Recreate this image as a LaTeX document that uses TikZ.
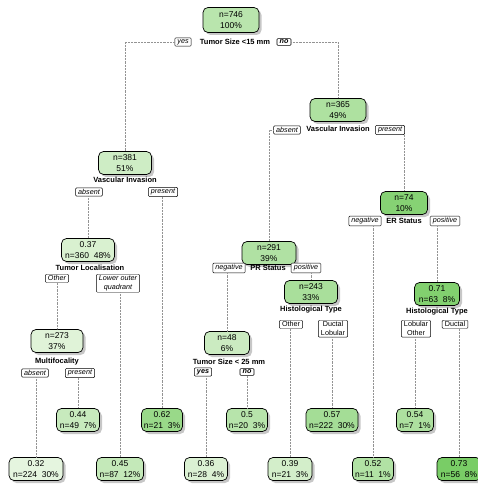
\documentclass[tikz,border=0pt]{standalone}
\usepackage{fontspec}
\setmainfont{Liberation Sans}
\usetikzlibrary{shadows}
\definecolor{gLo}{RGB}{234,247,228}
\definecolor{gHi}{RGB}{118,204,98}
\tikzset{
  tnode/.style={draw=black, line width=0.7pt, rounded corners=5pt, align=center,
    font=\fontsize{8.5}{10.5}\selectfont, inner sep=1pt, minimum height=23pt,
    drop shadow={shadow xshift=2.5pt, shadow yshift=-2.5pt, fill=black!40, opacity=0.55}},
  slabel/.style={font=\bfseries\fontsize{7.5}{9}\selectfont, inner sep=0.5pt},
  blabel/.style={draw=black, line width=0.45pt, fill=white, rounded corners=1pt,
    font=\itshape\fontsize{7.2}{8.6}\selectfont, inner xsep=2.6pt, inner ysep=1.5pt, align=center},
  ublabel/.style={blabel, font=\fontsize{7.2}{8.6}\selectfont},
  bblabel/.style={blabel, line width=0.55pt, font=\bfseries\itshape\fontsize{7.2}{8.6}\selectfont},
  edge/.style={draw=gray!85, densely dotted, line width=0.45pt},
}
\begin{document}
\begin{tikzpicture}[x=1pt,y=-1pt]
\useasboundingbox (0,0) rectangle (477,486);
% internal nodes
\node[tnode, fill=gHi!42!gLo, minimum width=56pt, minimum height=25pt] (n1) at (231,20) {n=746\\100\%};
\node[tnode, fill=gHi!24!gLo, minimum width=53pt] (n2) at (125,163) {n=381\\51\%};
\node[tnode, fill=gHi!52!gLo, minimum width=56pt] (n3) at (338,110) {n=365\\49\%};
\node[tnode, fill=gHi!86!gLo, minimum width=47pt] (n5) at (404,203) {n=74\\10\%};
\node[tnode, fill=gHi!15!gLo, minimum width=53pt] (n6) at (88,250) {0.37\\n=360\ \ 48\%};
\node[tnode, fill=gHi!50!gLo, minimum width=54pt] (n7) at (269,253) {n=291\\39\%};
\node[tnode, fill=gHi!9!gLo, minimum width=52pt] (n8) at (57,341) {n=273\\37\%};
\node[tnode, fill=gHi!27!gLo, minimum width=45pt] (n9) at (227,343) {n=48\\6\%};
\node[tnode, fill=gHi!56!gLo, minimum width=53pt] (n10) at (311,292) {n=243\\33\%};
\node[tnode, fill=gHi!90!gLo, minimum width=45pt] (n11) at (437,294) {0.71\\n=63\ \ 8\%};
% leaves
\node[tnode, fill=gHi!4!gLo, minimum width=54pt] (l32) at (36,469) {0.32\\n=224\ \ 30\%};
\node[tnode, fill=gHi!30!gLo, minimum width=43pt] (l44) at (78,420) {0.44\\n=49\ \ 7\%};
\node[tnode, fill=gHi!33!gLo, minimum width=47pt] (l45) at (120,469) {0.45\\n=87\ \ 12\%};
\node[tnode, fill=gHi!70!gLo, minimum width=41pt] (l62) at (162,420) {0.62\\n=21\ \ 3\%};
\node[tnode, fill=gHi!13!gLo, minimum width=43pt] (l36) at (206,469) {0.36\\n=28\ \ 4\%};
\node[tnode, fill=gHi!44!gLo, minimum width=41pt] (l50) at (247,420) {0.5\\n=20\ \ 3\%};
\node[tnode, fill=gHi!20!gLo, minimum width=44pt] (l39) at (290,469) {0.39\\n=21\ \ 3\%};
\node[tnode, fill=gHi!60!gLo, minimum width=52pt] (l57) at (332,420) {0.57\\n=222\ \ 30\%};
\node[tnode, fill=gHi!49!gLo, minimum width=41pt] (l52) at (373,469) {0.52\\n=11\ \ 1\%};
\node[tnode, fill=gHi!53!gLo, minimum width=37pt] (l54) at (415,420) {0.54\\n=7\ \ 1\%};
\node[tnode, fill=gHi!97!gLo, minimum width=44pt] (l73) at (459,469) {0.73\\n=56\ \ 8\%};
% split labels
\node[slabel] (s1) at (235,42) {Tumor Size <15 mm};
\node[slabel] (s2) at (125,180) {Vascular Invasion};
\node[slabel] (s3) at (338,129) {Vascular Invasion};
\node[slabel] (s5) at (404,221) {ER Status};
\node[slabel] (s6) at (90,268) {Tumor Localisation};
\node[slabel] (s7) at (268,268) {PR Status};
\node[slabel] (s8) at (57,362) {Multifocality};
\node[slabel] (s9) at (229,362) {Tumor Size < 25 mm};
\node[slabel] (s10) at (311,310) {Histological Type};
\node[slabel] (s11) at (437,312) {Histological Type};
% branch labels
\node[blabel] (b1a) at (183,42) {yes};
\node[bblabel] (b1b) at (284,42) {no};
\node[blabel] (b2a) at (89,192) {absent};
\node[blabel] (b2b) at (163,192) {present};
\node[blabel] (b3a) at (287,130) {absent};
\node[blabel] (b3b) at (390,130) {present};
\node[blabel] (b5a) at (365,221) {negative};
\node[blabel] (b5b) at (445,221) {positive};
\node[blabel, anchor=north] (b6a) at (57,274) {Other};
\node[blabel, anchor=north] (b6b) at (118,274) {Lower outer\\quadrant};
\node[blabel] (b7a) at (229,268) {negative};
\node[blabel] (b7b) at (306,268) {positive};
\node[blabel] (b8a) at (35,373) {absent};
\node[blabel] (b8b) at (80,373) {present};
\node[bblabel] (b9a) at (203,372) {yes};
\node[bblabel] (b9b) at (247,372) {no};
\node[ublabel, anchor=north] (b10a) at (291,320) {Other};
\node[ublabel, anchor=north] (b10b) at (333,320) {Ductal\\Lobular};
\node[ublabel, anchor=north] (b11a) at (416,320) {Lobular\\Other};
\node[ublabel, anchor=north] (b11b) at (455,320) {Ductal};
% connectors
\draw[edge] (b1a.west) -| (n2.north);
\draw[edge] (b1b.east) -| (n3.north);
\draw[edge] (n6.north |- b2a.south) -- (n6.north);
\draw[edge] (l62.north |- b2b.south) -- (l62.north);
\draw[edge] (b3a.west) -| (n7.north);
\draw[edge] (n5.north |- b3b.south) -- (n5.north);
\draw[edge] (l52.north |- b5a.south) -- (l52.north);
\draw[edge] (n11.north |- b5b.south) -- (n11.north);
\draw[edge] (n8.north |- b6a.south) -- (n8.north);
\draw[edge] (l45.north |- b6b.south) -- (l45.north);
\draw[edge] (n9.north |- b7a.south) -- (n9.north);
\draw[edge] (n10.north |- b7b.south) -- (n10.north);
\draw[edge] (l32.north |- b8a.south) -- (l32.north);
\draw[edge] (l44.north |- b8b.south) -- (l44.north);
\draw[edge] (l36.north |- b9a.south) -- (l36.north);
\draw[edge] (l50.north |- b9b.south) -- (l50.north);
\draw[edge] (l39.north |- b10a.south) -- (l39.north);
\draw[edge] (l57.north |- b10b.south) -- (l57.north);
\draw[edge] (l54.north |- b11a.south) -- (l54.north);
\draw[edge] (l73.north |- b11b.south) -- (l73.north);
\end{tikzpicture}
\end{document}
